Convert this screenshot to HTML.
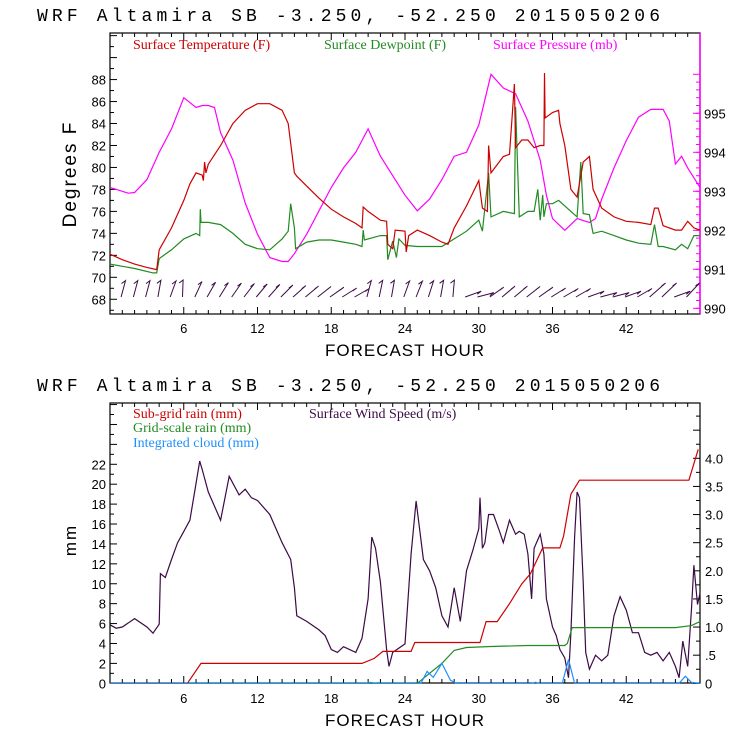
<!DOCTYPE html>
<html><head><meta charset="utf-8"><style>
html,body{margin:0;padding:0;background:#fff;}
svg{display:block;}
text{font-family:"Liberation Sans",sans-serif;}
.ttl{font-family:"Liberation Mono",monospace;font-size:18px;}
.leg{font-family:"Liberation Serif",serif;font-size:14px;}
.tk{font-size:13px;}
</style></head><body>
<svg id="c" width="740" height="740" viewBox="0 0 740 740" xmlns="http://www.w3.org/2000/svg">
<rect width="740" height="740" fill="#fff"/>
<text class="ttl" x="37" y="21" textLength="623" lengthAdjust="spacing">WRF  Altamira  SB  -3.250, -52.250  2015050206</text>
<text class="ttl" x="37" y="391" textLength="623" lengthAdjust="spacing">WRF  Altamira  SB  -3.250, -52.250  2015050206</text>
<rect x="110" y="33" width="590" height="281" fill="none" stroke="#000" stroke-width="1.2"/>
<line x1="700" y1="33" x2="700" y2="314" stroke="#ff00ff" stroke-width="1.5"/>
<rect x="110" y="403" width="590" height="280" fill="none" stroke="#000" stroke-width="1.2"/>
<text class="leg" x="133" y="49" fill="#cc0000">Surface Temperature (F)</text>
<text class="leg" x="324" y="49" fill="#228b22">Surface Dewpoint (F)</text>
<text class="leg" x="493" y="49" fill="#ff00ff">Surface Pressure (mb)</text>
<text class="leg" x="133" y="418" fill="#cc0000">Sub-grid rain (mm)</text>
<text class="leg" x="309" y="418" fill="#3c0a46">Surface Wind Speed (m/s)</text>
<text class="leg" x="133" y="432" fill="#228b22">Grid-scale rain (mm)</text>
<text class="leg" x="133" y="447" fill="#1e90ff">Integrated cloud (mm)</text>
<text x="76" y="174" font-size="19" text-anchor="middle" transform="rotate(-90 76 174)" letter-spacing="2">Degrees F</text>
<text x="76" y="540" font-size="17" text-anchor="middle" transform="rotate(-90 76 540)" letter-spacing="2">mm</text>
<text x="405" y="356" font-size="17" text-anchor="middle" letter-spacing="1">FORECAST HOUR</text>
<text x="405" y="726" font-size="17" text-anchor="middle" letter-spacing="1">FORECAST HOUR</text>
<g id="g"></g>
</svg>
<script>
// ---- top panel data ----
const tHours=[0,1,2,3,3.8,4,5,6,6.5,7,7.5,7.6,7.7,7.8,8,9,10,11,12,13,14,14.5,15,15.2,16,17,18,19,20,20.5,20.6,21,22,22.5,22.6,23,23.2,24,24.1,24.3,25,26,27,27.5,28,29,30,30.3,30.7,30.8,31,32,32.5,32.9,33,33.5,34,34.5,35,35.3,35.35,35.4,36,36.5,36.6,37,37.5,38,38.5,39,39.3,40,41,42,43,44,44.3,44.6,45,46,46.5,47,47.5,48];
const tempF=[72.1,71.6,71.2,70.9,70.7,72.5,74.5,77,78.5,79.5,79.3,78.8,80.5,79.5,80.3,82,84,85.2,85.8,85.8,85.2,84,79.5,79.2,78.3,77.2,76.2,75.5,74.9,74.5,76.4,76,75.2,75.1,73,72.6,74.3,74.2,72.3,73.8,74.3,73.8,73.2,73,74.5,76.5,78.8,76.3,76,82,79.5,81,81.2,87.6,81.8,82.5,82.5,81.8,82,82,88.6,84.5,85,85.2,84,82,78,77.3,80.5,81,78,76.3,75.5,75.1,75,74.8,76.3,76.3,74.7,74.3,74.3,75.1,74.5,74.3];
const dHours=[0,2,3.5,3.8,4,5,6,7,7.3,7.35,7.4,8,9,10,11,12,13,14,14.5,14.7,15,15.1,16,17,18,19,20,20.5,20.6,20.7,22,22.5,22.6,23,23.3,23.5,24,25,26,27,28,29,30,30.3,30.8,31,32,32.9,33,33.3,34,34.5,34.8,35,35.2,35.3,35.5,36,36.5,37,37.5,38,38.3,38.5,39,39.3,40,41,42,43,44,44.3,44.6,45,46,46.5,47,47.5,48];
const dewF=[71.2,70.8,70.4,70.4,71.7,72.5,73.5,74,73.8,76.2,75,75,74.8,74,73,72.6,72.5,73.5,74.2,76.7,74.5,72.6,73.2,73.4,73.4,73.2,73,72.8,74.3,73.4,73.8,73.8,71.6,73.3,71.8,73.5,72.9,72.8,72.8,72.8,73.5,74.2,75.2,74.2,79.5,75.5,76,75.8,85.5,75.5,76,76,78,75.2,77.5,75.5,76.7,76.7,77,76.5,76,75.5,80.5,75.8,75.7,74,74.2,73.8,73.4,73.1,73,74.8,72.8,72.8,72.5,73,72.6,73.8,73.8];
const pHours=[0,1,1.5,2,3,4,5,6,7,7.5,8,8.5,9,10,11,12,13,14,14.5,15,16,17,18,19,20,21,22,23,24,25,26,27,28,29,30,31,32,33,34,35,35.5,36,37,38,39,39.5,40,41,42,43,44,45,45.5,46,46.5,47,48];
const presMb=[993.1,993.0,992.95,992.97,993.3,994.0,994.6,995.4,995.15,995.2,995.2,995.15,994.5,993.8,992.7,991.9,991.3,991.2,991.2,991.4,991.9,992.5,993.1,993.6,994.0,994.6,993.9,993.4,992.9,992.5,992.8,993.3,993.9,994.0,994.7,996.0,995.65,995.5,994.8,993.8,992.9,992.3,992.0,992.3,992.2,992.3,992.8,993.6,994.3,994.9,995.1,995.1,994.8,993.7,993.9,993.6,993.1];
const barbDir=[75,75,75,80,70,88,65,60,58,55,52,50,48,45,42,40,38,35,32,30,75,78,80,70,68,72,80,85,20,15,35,40,40,38,35,32,30,30,20,15,15,20,30,-20,-30,20,-40];
const tempTicks=[68,70,72,74,76,78,80,82,84,86,88];
const presTicks=[990,991,992,993,994,995];
const hourTicks=[6,12,18,24,30,36,42];
// ---- bottom panel data ----
const wHours=[0,0.5,1,2,3,3.5,4,4.1,4.5,5,5.5,6,6.5,7,7.3,7.5,8,9,9.7,10.5,11,11.5,12,13,14,14.7,15,15.2,16,17,17.5,18,18.5,19,20,20.5,21,21.3,21.6,22,22.5,22.7,23,24,24.5,24.9,25.5,26,26.5,27,27.5,28,28.5,29,29.5,30,30.1,30.3,30.5,30.8,31.2,31.7,32,32.5,33,33.3,33.7,34,34.3,34.5,35,35.3,35.5,36,36.3,36.6,37,37.3,37.5,37.8,38,38.2,38.5,38.7,39,39.5,40,40.5,41,41.5,42,42.5,43,43.5,44,44.5,45,45.5,46,46.3,46.6,47,47.3,47.5,47.8,48];
const windMs=[1.04,0.98,1.0,1.15,1.0,0.89,1.05,1.95,1.88,2.2,2.5,2.7,2.9,3.55,3.95,3.8,3.4,2.9,3.68,3.35,3.45,3.3,3.25,3.0,2.5,2.2,1.7,1.2,1.1,0.95,0.85,0.6,0.55,0.65,0.55,0.8,1.5,2.6,2.4,1.8,0.6,0.3,0.55,0.7,2.3,3.24,2.2,2.0,1.7,1.2,1.0,1.7,1.1,2.0,2.35,2.75,3.3,2.4,2.5,3.0,3.0,2.7,2.5,2.9,2.65,2.7,2.65,2.3,1.5,2.4,2.65,2.3,1.5,1.0,0.85,0.6,0.45,0.1,0.9,2.6,3.4,3.3,1.8,0.55,0.25,0.5,0.4,0.5,1.2,1.54,1.3,0.9,0.9,0.55,0.5,0.55,0.4,0.55,0.3,0.1,0.75,0.3,1.3,2.1,1.4,1.6];
const sgHours=[0,6.3,7.4,20.5,21.5,22.2,24.5,24.8,30.1,30.6,31.5,32.5,33.5,34.2,35.2,36.6,36.9,37.5,38.2,47.1,47.85];
const subgridMm=[0,0,2,2,2.5,3.2,3.2,4.1,4.1,6.2,6.2,8,10,11,13.6,13.6,14.8,19,20.4,20.4,23.5];
const gsHours=[0,25,26,27,28,29,31,34,37,37.2,37.6,46,47.3,48];
const gridMm=[0,0,1,2,3.3,3.6,3.7,3.8,3.8,4.0,5.6,5.6,5.8,6.2];
const cHours=[0,20.8,21.2,21.6,25.3,25.8,26.3,27,27.7,28.2,34.3,34.6,34.9,36.8,37.3,37.8,46.3,46.8,47.3,48];
const cloudMm=[0,0,0.1,0,0,1.2,0.6,2.0,0.3,0,0,0.1,0,0,2.4,0,0,0.7,0.1,0];
const mmTicks=[0,2,4,6,8,10,12,14,16,18,20,22];
const windTicks=[0,0.5,1,1.5,2,2.5,3,3.5,4];
const windLabels=['0','.5','1.0','1.5','2.0','2.5','3.0','3.5','4.0'];

const NS='http://www.w3.org/2000/svg';
const G=document.getElementById('g');
const X0=110,X1=700;
const xH=h=>X0+h*(X1-X0)/48;
const yT=v=>277.3-(v-70)*10.985;
const yP=v=>308.3-(v-990)*39;
const yMM=v=>683.3-v*9.955;
const yW=v=>683.3-v*56.25;
function mk(tag,attrs){const e=document.createElementNS(NS,tag);for(const k in attrs)e.setAttribute(k,attrs[k]);G.appendChild(e);return e;}
function line(xs,ys,fx,fy,col,name){
  let d='';for(let i=0;i<xs.length;i++)d+=(i?'L':'M')+fx(xs[i]).toFixed(1)+' '+fy(ys[i]).toFixed(1);
  const p=mk('path',{d:d,fill:'none',stroke:col,'stroke-width':1.2});
  
  
}
function txt(x,y,s,anchor,name,col){const t=mk('text',{x:x,y:y,'font-size':13,'text-anchor':anchor,fill:col||'#000'});t.textContent=s;
  
  }
for(let h=1;h<48;h++){const L=(h%6===0)?7:4;
  mk('line',{x1:xH(h),y1:314,x2:xH(h),y2:314-L,stroke:'#000'});mk('line',{x1:xH(h),y1:33,x2:xH(h),y2:33+L,stroke:'#000'});
  mk('line',{x1:xH(h),y1:683,x2:xH(h),y2:683-L,stroke:'#000'});mk('line',{x1:xH(h),y1:403,x2:xH(h),y2:403+L,stroke:'#000'});}
hourTicks.forEach(h=>{txt(xH(h),333,String(h),'middle','top-x-tick-'+h);txt(xH(h),703,String(h),'middle','bottom-x-tick-'+h);});
for(let v=67;v<=93;v++){const y=yT(v);if(y<33||y>314)continue;mk('line',{x1:110,y1:y,x2:v%2===0?117:114,y2:y,stroke:'#000'});}
tempTicks.forEach(v=>txt(106,yT(v)+5,String(v),'end','temp-tick-'+v));
for(let v=990;v<=996;v++){mk('line',{x1:700,y1:yP(v),x2:693,y2:yP(v),stroke:'#ff00ff'});}
for(let v=990;v<=996;v+=0.2){mk('line',{x1:700,y1:yP(v),x2:696,y2:yP(v),stroke:'#ff00ff'});}
presTicks.forEach(v=>txt(704,yP(v)+5,String(v),'start','pressure-tick-'+v));
for(let v=0;v<=28;v++){const y=yMM(v);if(y<403)continue;mk('line',{x1:110,y1:y,x2:v%2===0?117:114,y2:y,stroke:'#000'});}
mmTicks.forEach(v=>txt(106,yMM(v)+5,v===0?'0':String(v),'end','mm-tick-'+v));
for(let v=0;v<=4.9;v+=0.25){mk('line',{x1:700,y1:yW(v),x2:(Math.round(v*4)%2===0)?693:696,y2:yW(v),stroke:'#000'});}
windTicks.forEach((v,i)=>txt(705,yW(v)+5,windLabels[i],'start','wind-tick-'+windLabels[i]));
line(pHours,presMb,xH,yP,'#ff00ff','pressure-line');
line(dHours,dewF,xH,yT,'#228b22','dewpoint-line');
line(tHours,tempF,xH,yT,'#cc0000','temperature-line');
barbDir.forEach((a,i)=>{const h=0.9+i*1.0;const x=xH(h),y=297;const r=a*Math.PI/180;const L=17;
  const x2=x+L*Math.cos(r),y2=y-L*Math.sin(r)*(a<0?-1:1);
  const p=mk('path',{d:`M${x.toFixed(1)} ${y} L${x2.toFixed(1)} ${(a<0?y-14:y2).toFixed(1)} l-4 3`,fill:'none',stroke:'#3c0a46','stroke-width':1});
  
  });
line(wHours,windMs,xH,yW,'#3c0a46','wind-speed-line');
line(gsHours,gridMm,xH,yMM,'#228b22','gridscale-rain-line');
line(sgHours,subgridMm,xH,yMM,'#cc0000','subgrid-rain-line');
line(cHours,cloudMm,xH,yMM,'#1e90ff','integrated-cloud-line');
</script>
</body></html>
